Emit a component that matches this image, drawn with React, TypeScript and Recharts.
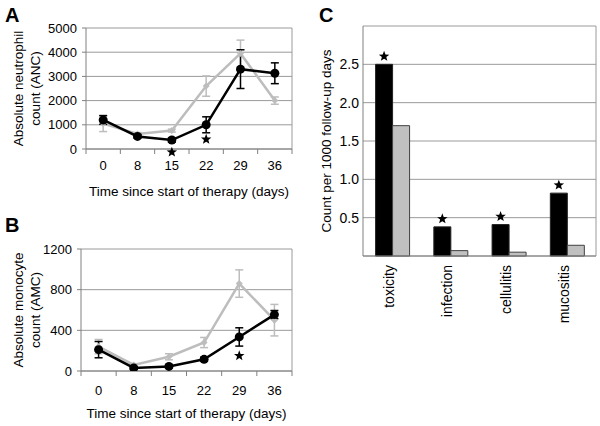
import React from "react";
import {
  LineChart,
  Line,
  XAxis,
  YAxis,
  CartesianGrid,
  ErrorBar,
  ReferenceDot,
  BarChart,
  Bar,
  LabelList,
} from "recharts";

const days = ["0", "8", "15", "22", "29", "36"];

// panel A: absolute neutrophil count
const ancHigh = [1200, 520, 370, 1000, 3300, 3130];
const ancHighErr = [180, 70, 90, 330, 800, 430];
const ancLow = [1050, 620, 760, 2600, 3950, 2000];
const ancLowErr = [330, 60, 60, 420, 550, 150];
const ancStars = [
  { day: "15", y: -130 },
  { day: "22", y: 400 },
];
const ancTicks = [0, 1000, 2000, 3000, 4000, 5000];

// panel B: absolute monocyte count
const amcHigh = [210, 30, 45, 115, 335, 555];
const amcHighErr = [80, 12, 15, 20, 90, 40];
const amcLow = [240, 60, 140, 280, 860, 500];
const amcLowErr = [70, 12, 30, 50, 135, 155];
const amcStars = [{ day: "29", y: 150 }];
const amcTicks = [0, 400, 800, 1200];

// panel C: events per 1000 follow-up days
const events = ["toxicity", "infection", "cellulitis", "mucositis"];
const eventHigh = [2.5, 0.38, 0.41, 0.82];
const eventLow = [1.7, 0.07, 0.05, 0.14];
const eventTicks = [0, 0.5, 1, 1.5, 2, 2.5, 3];

const GRAY = "#bdbdbd";
const GRID = "#9a9a9a";
const AXIS = "#808080";

function starPoints(cx: number, cy: number, r: number) {
  const pts: string[] = [];
  for (let i = 0; i < 10; i++) {
    const rad = i % 2 === 0 ? r : r * 0.42;
    const a = -Math.PI / 2 + (i * Math.PI) / 5;
    pts.push(`${cx + rad * Math.cos(a)},${cy + rad * Math.sin(a)}`);
  }
  return pts.join(" ");
}

const starShape = (p: any) => <polygon points={starPoints(p.cx, p.cy, 5.5)} fill="#000" />;

const blackDot = (p: any) => {
  if (p.cx == null || p.cy == null) return <g key={p.key} />;
  return <circle key={p.key} cx={p.cx} cy={p.cy} r={4.5} fill="#000" />;
};

const grayDot = (p: any) => {
  if (p.cx == null || p.cy == null) return <g key={p.key} />;
  const s = 3.5;
  return (
    <polygon
      key={p.key}
      points={`${p.cx},${p.cy - s} ${p.cx + s},${p.cy} ${p.cx},${p.cy + s} ${p.cx - s},${p.cy}`}
      fill={GRAY}
    />
  );
};

interface LinePanelProps {
  top: number;
  height: number;
  margin: { top: number; right: number; bottom: number; left: number };
  high: number[];
  highErr: number[];
  low: number[];
  lowErr: number[];
  stars: { day: string; y: number }[];
  ticks: number[];
  title: [string, string];
  titleX: [number, number];
  tickOffset: number;
}

function LinePanel(props: LinePanelProps) {
  const { top, height, margin, high, highErr, low, lowErr, stars, ticks, title, titleX, tickOffset } = props;
  const width = 300;
  const yWidth = 46;
  const step = (width - margin.left - margin.right - yWidth) / days.length;
  const data = days.map((day, i) => ({
    day,
    high: high[i],
    highErr: highErr[i],
    low: low[i],
    lowErr: lowErr[i],
  }));

  const xTick = (p: any) => {
    const { x, y, payload, index } = p;
    return (
      <g>
        <line x1={x - step / 2} x2={x - step / 2} y1={y} y2={y + 5} stroke={AXIS} />
        {index === days.length - 1 && <line x1={x + step / 2} x2={x + step / 2} y1={y} y2={y + 5} stroke={AXIS} />}
        <text x={x} y={y + tickOffset} textAnchor="middle" fontSize={13} fill="#000">
          {payload.value}
        </text>
      </g>
    );
  };

  const yTitle = (p: any) => {
    const vb = p.viewBox;
    const cy = vb.y + vb.height / 2;
    return (
      <g>
        {title.map((t, i) => (
          <text
            key={t}
            transform={`translate(${titleX[i]},${cy}) rotate(-90)`}
            textAnchor="middle"
            fontSize={13.5}
            fill="#000"
          >
            {t}
          </text>
        ))}
      </g>
    );
  };

  const xTitle = (p: any) => {
    const vb = p.viewBox;
    return (
      <text x={vb.x + vb.width / 2} y={vb.y + 47} textAnchor="middle" fontSize={13.5} fill="#000">
        Time since start of therapy (days)
      </text>
    );
  };

  return (
    <div style={{ position: "absolute", left: 0, top, width, height }}>
      <LineChart width={width} height={height} data={data} margin={margin}>
        <CartesianGrid
          stroke={GRID}
          verticalCoordinatesGenerator={({ offset }: any) => [offset.left + offset.width]}
        />
        <XAxis
          dataKey="day"
          height={30}
          padding={{ left: step / 2, right: step / 2 }}
          tickLine={false}
          tickSize={0}
          tickMargin={0}
          axisLine={{ stroke: AXIS }}
          tick={xTick}
          interval={0}
          label={{ content: xTitle }}
        />
        <YAxis
          width={yWidth}
          domain={[ticks[0], ticks[ticks.length - 1]]}
          ticks={ticks}
          allowDataOverflow
          tickSize={4}
          tickMargin={5}
          tickLine={{ stroke: AXIS }}
          axisLine={{ stroke: AXIS }}
          tick={{ fontSize: 13, fill: "#000" }}
          label={{ content: yTitle }}
        />
        <Line
          dataKey="low"
          stroke={GRAY}
          strokeWidth={2.5}
          dot={grayDot}
          activeDot={false}
          isAnimationActive={false}
        >
          <ErrorBar dataKey="lowErr" width={4} stroke={GRAY} strokeWidth={1.5} direction="y" />
        </Line>
        <Line
          dataKey="high"
          stroke="#000"
          strokeWidth={2.5}
          dot={blackDot}
          activeDot={false}
          isAnimationActive={false}
        >
          <ErrorBar dataKey="highErr" width={4} stroke="#000" strokeWidth={1.5} direction="y" />
        </Line>
        {stars.map((s) => (
          <ReferenceDot key={s.day} x={s.day} y={s.y} ifOverflow="visible" shape={starShape} />
        ))}
      </LineChart>
    </div>
  );
}

function EventPanel() {
  const data = events.map((event, i) => ({ event, high: eventHigh[i], low: eventLow[i] }));

  const rotTick = (p: any) => {
    const { x, y, payload } = p;
    return (
      <text transform={`translate(${x + 2},${y + 9}) rotate(-90)`} textAnchor="end" fontSize={14} fill="#000">
        {payload.value}
      </text>
    );
  };

  const yTitle = (p: any) => {
    const vb = p.viewBox;
    return (
      <text
        transform={`translate(${vb.x + 4},${vb.y + vb.height / 2}) rotate(-90)`}
        textAnchor="middle"
        fontSize={13.5}
        fill="#000"
      >
        Count per 1000 follow-up days
      </text>
    );
  };

  const starLabel = (p: any) => {
    const cx = Number(p.x) + Number(p.width) / 2;
    const cy = Number(p.y) - 8;
    return <polygon points={starPoints(cx, cy, 5.5)} fill="#000" />;
  };

  return (
    <div style={{ position: "absolute", left: 300, top: 0, width: 300, height: 330 }}>
      <BarChart
        width={300}
        height={330}
        data={data}
        margin={{ top: 26, right: 4, bottom: 4, left: 27 }}
        barCategoryGap="21.6%"
        barGap={0}
      >
        <CartesianGrid
          stroke={GRID}
          verticalCoordinatesGenerator={({ offset }: any) => [offset.left + offset.width]}
        />
        <XAxis
          dataKey="event"
          height={70}
          tickLine={false}
          tickSize={0}
          tickMargin={0}
          axisLine={{ stroke: AXIS }}
          tick={rotTick}
          interval={0}
        />
        <YAxis
          width={36}
          domain={[0, 3]}
          ticks={eventTicks}
          tickFormatter={(v: number) => (v === 0 || v === 3 ? "" : v.toFixed(1))}
          tickLine={false}
          tickSize={0}
          tickMargin={4}
          axisLine={{ stroke: AXIS }}
          tick={{ fontSize: 14, fill: "#000" }}
          label={{ content: yTitle }}
        />
        <Bar dataKey="high" fill="#000" stroke="#222" isAnimationActive={false}>
          <LabelList dataKey="high" content={starLabel} />
        </Bar>
        <Bar dataKey="low" fill="#c0c0c0" stroke="#404040" isAnimationActive={false} />
      </BarChart>
    </div>
  );
}

export default function App() {
  return (
    <div
      style={{
        position: "absolute",
        left: 0,
        top: 0,
        width: 600,
        height: 426,
        background: "#fff",
        fontFamily: "'Liberation Sans', Arial, sans-serif",
        overflow: "hidden",
      }}
    >
      <LinePanel
        top={0}
        height={210}
        margin={{ top: 28, right: 8, bottom: 31, left: 40 }}
        high={ancHigh}
        highErr={ancHighErr}
        low={ancLow}
        lowErr={ancLowErr}
        stars={ancStars}
        ticks={ancTicks}
        title={["Absolute neutrophil", "count (ANC)"]}
        titleX={[23, 40]}
        tickOffset={21}
      />
      <LinePanel
        top={210}
        height={216}
        margin={{ top: 39, right: 8, bottom: 25, left: 35 }}
        high={amcHigh}
        highErr={amcHighErr}
        low={amcLow}
        lowErr={amcLowErr}
        stars={amcStars}
        ticks={amcTicks}
        title={["Absolute monocyte", "count (AMC)"]}
        titleX={[23, 40]}
        tickOffset={24}
      />
      <EventPanel />
      <svg
        width={600}
        height={426}
        style={{ position: "absolute", left: 0, top: 0, pointerEvents: "none" }}
      >
        <text x={5} y={22} fontSize={20} fontWeight="bold" fill="#000">A</text>
        <text x={5} y={232} fontSize={20} fontWeight="bold" fill="#000">B</text>
        <text x={319} y={22} fontSize={20} fontWeight="bold" fill="#000">C</text>
      </svg>
    </div>
  );
}
